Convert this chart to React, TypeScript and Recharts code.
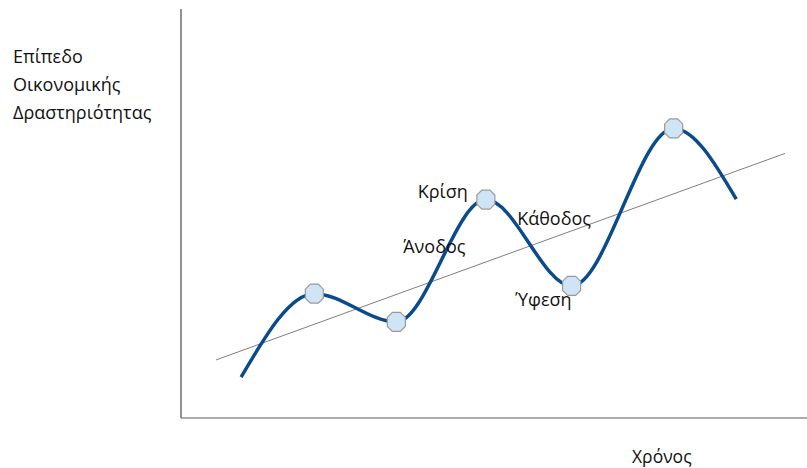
import {
  ComposedChart,
  Line,
  Scatter,
  XAxis,
  YAxis,
} from "recharts";

// business cycle curve (time vs level of activity, 0-100 units)
const cycleX = [9.6, 21.3, 34.4, 48.7, 62.4, 78.7, 88.7];
const cycleY = [10.0, 30.4, 23.5, 53.4, 32.3, 70.8, 53.5];
// indices of the turning points that get a marker
const turningIdx = [1, 2, 3, 4, 5];

// long-run trend
const trendX = [5.6, 96.5];
const trendY = [14.2, 64.7];

// phase names and where they sit
const phaseNames = ["Άνοδος", "Κρίση", "Κάθοδος", "Ύφεση"];
const phaseX = [35.5, 45.8, 53.7, 53.4];
const phaseY = [40.3, 53.8, 47.2, 27.5];

const yTitle = ["Επίπεδο", "Οικονομικής", "Δραστηριότητας"];
const xTitle = "Χρόνος";

const FONT = "'Open Sans', sans-serif";
const PHASE_ANCHOR = ["start", "end", "start", "start"];

const cycleData = cycleX.map((x, i) => ({ x, y: cycleY[i] }));
const turningData = turningIdx.map((i) => ({ x: cycleX[i], y: cycleY[i] }));
const trendData = trendX.map((x, i) => ({ x, y: trendY[i] }));
const phaseData = phaseNames.map((name, i) => ({
  x: phaseX[i],
  y: phaseY[i],
  name,
  anchor: PHASE_ANCHOR[i],
}));

function Octagon(props: any) {
  const { cx, cy } = props;
  const w = 18;
  const h = 19;
  const c = 5;
  const l = cx - w / 2;
  const r = cx + w / 2;
  const t = cy - h / 2;
  const b = cy + h / 2;
  const d = `M${l + c},${t} L${r - c},${t} L${r},${t + c} L${r},${b - c} L${r - c},${b} L${l + c},${b} L${l},${b - c} L${l},${t + c} Z`;
  return <path d={d} fill="#cfe4f4" stroke="#9a9a9a" strokeWidth={1.2} />;
}

function PhaseLabel(props: any) {
  const { cx, cy, payload } = props;
  return (
    <text
      x={cx}
      y={cy}
      textAnchor={payload.anchor}
      fontFamily={FONT}
      fontSize={18}
      fill="#111"
    >
      {payload.name}
    </text>
  );
}

export default function App() {
  return (
    <div
      style={{
        position: "absolute",
        left: 0,
        top: 0,
        width: 807,
        height: 468,
        background: "#fff",
        fontFamily: FONT,
      }}
    >
      <ComposedChart
        width={807}
        height={468}
        margin={{ top: 9, right: 0, bottom: 49, left: 180 }}
      >
        <XAxis
          type="number"
          dataKey="x"
          domain={[0, 100]}
          height={1}
          tick={false}
          tickLine={false}
          axisLine={{ stroke: "#ababab", strokeWidth: 2 }}
        />
        <YAxis
          type="number"
          dataKey="y"
          domain={[0, 100]}
          width={1}
          tick={false}
          tickLine={false}
          axisLine={{ stroke: "#7f7f7f", strokeWidth: 1.7 }}
        />
        <Line
          data={trendData}
          dataKey="y"
          type="linear"
          stroke="#7f7f7f"
          strokeWidth={1}
          dot={false}
          activeDot={false}
          isAnimationActive={false}
        />
        <Line
          data={cycleData}
          dataKey="y"
          type="monotone"
          stroke="#0b4a8b"
          strokeWidth={3.5}
          dot={false}
          activeDot={false}
          isAnimationActive={false}
        />
        <Scatter
          data={turningData}
          dataKey="y"
          shape={Octagon}
          isAnimationActive={false}
        />
        <Scatter
          data={phaseData}
          dataKey="y"
          shape={PhaseLabel}
          isAnimationActive={false}
        />
      </ComposedChart>
      <div
        style={{
          position: "absolute",
          left: 13,
          top: 42,
          fontSize: 18,
          lineHeight: "28px",
          color: "#111",
        }}
      >
        {yTitle.map((t) => (
          <div key={t}>{t}</div>
        ))}
      </div>
      <div
        style={{
          position: "absolute",
          left: 632,
          top: 444,
          fontSize: 17.5,
          lineHeight: "24px",
          color: "#111",
        }}
      >
        {xTitle}
      </div>
    </div>
  );
}
